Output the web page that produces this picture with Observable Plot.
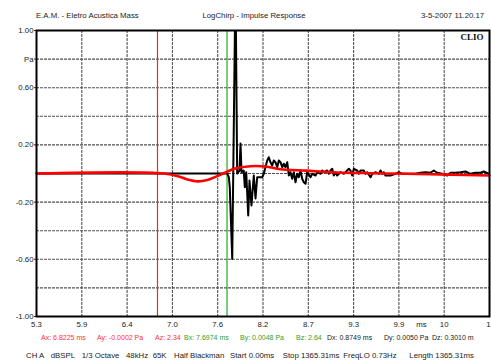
<!DOCTYPE html>
<html><head><meta charset="utf-8">
<script src="https://cdn.jsdelivr.net/npm/d3@7"></script>
<script src="https://cdn.jsdelivr.net/npm/@observablehq/plot@0.6"></script>
<style>
body{margin:0;background:#fff;}
#wrap{position:relative;width:491px;height:360px;overflow:hidden;font-family:"Liberation Sans",Arial,sans-serif;font-size:7.8px;color:#222;background:#fff;}
#wrap svg{position:absolute;left:0;top:0;}
.t{position:absolute;white-space:nowrap;line-height:8px;}
</style></head><body><div id="wrap"></div>
<script>
// ---- data ----
const xTicks = [5.3, 5.87, 6.44, 7.01, 7.58, 8.15, 8.72, 9.29, 9.86, 10.43, 11.0];
const xTickLabels = ["5.3","5.9","6.4","7.0","7.6","8.2","8.7","9.3","9.9","10","1"];
const yTicks = [1, 0.8, 0.6, 0.2, -0.2, -0.6, -1];
const yTickLabels = ["1.00","Pa","0.60","0.20","-0.20","-0.60","-1.00"];
const yGrid = [0.8, 0.6, 0.4, 0.2, 0, -0.2, -0.4, -0.6, -0.8];

const cursorA = 6.8225;
const cursorB = 7.6974;

const impulseT = [
 5.300, 7.700, 7.720, 7.732, 7.763, 7.804, 7.825, 7.854, 7.867, 7.880,
 7.908, 7.921, 7.939, 7.964, 7.980, 8.005, 8.034, 8.056, 8.077, 8.140,
 8.160, 8.203, 8.223, 8.244, 8.266, 8.286, 8.307, 8.329, 8.349, 8.370,
 8.392, 8.412, 8.433, 8.455, 8.475, 8.496, 8.517, 8.538, 8.559, 8.580,
 8.601, 8.622, 8.643, 8.663, 8.685, 8.706, 8.748, 8.769, 8.811, 8.832,
 8.874, 8.895, 8.915, 8.958, 8.978, 8.999, 9.021, 9.041, 9.062, 9.083,
 9.125, 9.167, 9.188, 9.230, 9.251, 9.272, 9.293, 9.335, 9.355, 9.377,
 9.418, 9.440, 9.461, 9.503, 9.524, 9.566, 9.607, 9.629, 9.650, 9.670,
 9.691, 9.754, 9.817, 9.859, 9.902, 9.943, 10.069, 10.132, 10.195, 10.258,
 10.299, 10.342, 10.405, 10.468, 10.509, 10.572, 10.635, 10.698, 10.761, 10.824,
 10.887, 10.928, 10.991
];
const impulseV = [
 0, 0, -0.026, -0.096, -0.597, 1.35, 0.0, 0.02, 0.21, 0.009,
 0.02, -0.096, 0.009, -0.294, -0.049, -0.224, -0.014, -0.175, -0.026, -0.026,
 -0.002, 0.091, 0.114, 0.079, 0.056, 0.091, 0.079, 0.044, 0.091, 0.079,
 0.044, 0.068, 0.044, 0.079, -0.014, 0.009, -0.037, 0.009, -0.061, -0.002,
 -0.026, 0.021, -0.037, -0.061, -0.072, 0.009, -0.026, -0.002, -0.014, 0.009,
 -0.002, 0.021, 0.009, 0.021, -0.002, 0.021, 0.033, -0.014, 0.009, -0.014,
 0.009, -0.002, 0.009, 0.033, 0.021, -0.014, 0.033, 0.021, -0.002, 0.021,
 0.021, -0.002, 0.009, -0.026, -0.002, 0.009, -0.002, 0.021, -0.002, 0.009,
 -0.014, -0.014, -0.002, 0.009, -0.002, -0.002, -0.002, 0.005, 0.009, 0.005,
 0.021, 0.005, -0.002, -0.014, 0.005, 0.005, 0.009, 0.014, -0.002, 0.005,
 0.005, 0.014, -0.002
];

const smoothT = [5.3, 6.90, 7.11, 7.20, 7.33, 7.45, 7.56, 7.65, 7.80, 7.99, 8.18, 8.37, 8.69, 9.00, 9.50, 9.94, 10.5, 11.0];
const smoothV = [0, 0, -0.024, -0.042, -0.055, -0.045, -0.022, 0, 0.035, 0.051, 0.049, 0.030, 0.020, 0.009, 0.002, -0.002, -0.008, -0.014];

const headerTexts = ["E.A.M. - Eletro Acustica Mass", "LogChirp - Impulse Response", "3-5-2007 11.20.17"];
const cursorTexts = [
  ["Ax: 6.8225 ms", "#ff3030"], ["Ay: -0.0002 Pa", "#ff3030"], ["Az: 2.34", "#ff3030"],
  ["Bx: 7.6974 ms", "#2e9e2e"], ["By: 0.0048 Pa", "#2e9e2e"], ["Bz: 2.64", "#2e9e2e"],
  ["Dx: 0.8749 ms", "#222"], ["Dy: 0.0050 Pa", "#222"], ["Dz: 0.3010 m", "#222"]
];
const settingsTexts = ["CH A", "dBSPL", "1/3 Octave", "48kHz", "65K", "Half Blackman", "Start 0.00ms", "Stop 1365.31ms", "FreqLO 0.73Hz", "Length 1365.31ms"];

// ---- build ----
const impulse = impulseT.map((t, i) => ({t, v: impulseV[i]}));
const smooth = smoothT.map((t, i) => ({t, v: smoothV[i]}));
const lastTick = xTicks.length - 1;
const innerTicks = xTicks.slice(1, lastTick);

const gridStyle = {stroke: "#505050", strokeWidth: 1.1, strokeDasharray: "3,1"};

// one mark per gridline
const gridMarks = [
  ...innerTicks.map(t => Plot.ruleX([t], {x: d => d, ...gridStyle})),
  ...yGrid.map(v => Plot.ruleY([v], {y: d => d, ...gridStyle}))
];

const chart = Plot.plot({
  width: 491, height: 360,
  marginLeft: 36, marginRight: 2, marginTop: 30, marginBottom: 44,
  style: {fontFamily: '"Liberation Sans", Arial, sans-serif', fontSize: "7.8px", color: "#222", background: "transparent"},
  x: {domain: [xTicks[0], xTicks[lastTick]], label: null, axis: null},
  y: {domain: [-1, 1], label: null, axis: null},
  marks: [
    ...gridMarks,
    Plot.ruleX([cursorA], {x: d => d, stroke: "#ff2020", strokeWidth: 1.2}),
    Plot.ruleX([cursorB], {x: d => d, stroke: "#22aa22", strokeWidth: 1.2}),
    Plot.line(impulse, {x: "t", y: "v", stroke: "black", strokeWidth: 2, clip: true}),
    Plot.line(smooth, {x: "t", y: "v", stroke: "#ff0000", strokeWidth: 2.6, curve: "catmull-rom"}),
    Plot.frame({stroke: "black", strokeWidth: 2}),
    Plot.axisX(xTicks.slice(0, lastTick), {tickSize: 0, tickPadding: 5, tickFormat: d => xTickLabels[xTicks.indexOf(d)], label: null}),
    Plot.text([xTickLabels[lastTick]], {x: [xTicks[lastTick]], frameAnchor: "bottom", textAnchor: "end", dx: 1, dy: 10, text: d => d}),
    Plot.text(["ms"], {x: [(xTicks[8] + xTicks[9]) / 2], frameAnchor: "bottom", dy: 10, text: d => d}),
    Plot.axisY(yTicks, {tickSize: 2, tickPadding: 1, tickFormat: d => yTickLabels[yTicks.indexOf(d)], label: null}),
    Plot.text(["CLIO"], {frameAnchor: "top-right", dx: -6, dy: 3, fontFamily: '"Liberation Serif", "Times New Roman", serif', fontWeight: "bold", fontSize: 9, fill: "#111"})
  ]
});

const wrap = document.getElementById("wrap");
wrap.appendChild(chart);

function addText(txt, left, top, color, extra) {
  const s = document.createElement("span");
  s.className = "t";
  s.textContent = txt;
  s.style.left = left + "px";
  s.style.top = top + "px";
  if (color) s.style.color = color;
  if (extra) Object.assign(s.style, extra);
  wrap.appendChild(s);
  return s;
}
// header
addText(headerTexts[0], 36, 12);
addText(headerTexts[1], 254, 12, null, {transform: "translateX(-50%)"});
addText(headerTexts[2], 421, 12);
// cursor readouts
const cursorLeft = [41, 97, 155, 184, 240, 296, 327, 384, 432];
const cursorWidth = [null, null, 29, null, null, 31, null, null, null];
cursorTexts.forEach(([txt, col], i) => {
  const ex = {background: "#fff", fontSize: "7px"};
  if (cursorWidth[i]) { ex.width = cursorWidth[i] + "px"; ex.overflow = "hidden"; }
  addText(txt, cursorLeft[i], 334, col, ex);
});
// settings
const settingsLeft = [26, 50.7, 81.7, 126, 152.7, 174, 230, 282.7, 343.3, 409.3];
settingsTexts.forEach((txt, i) => addText(txt, settingsLeft[i], 352));
</script></body></html>
